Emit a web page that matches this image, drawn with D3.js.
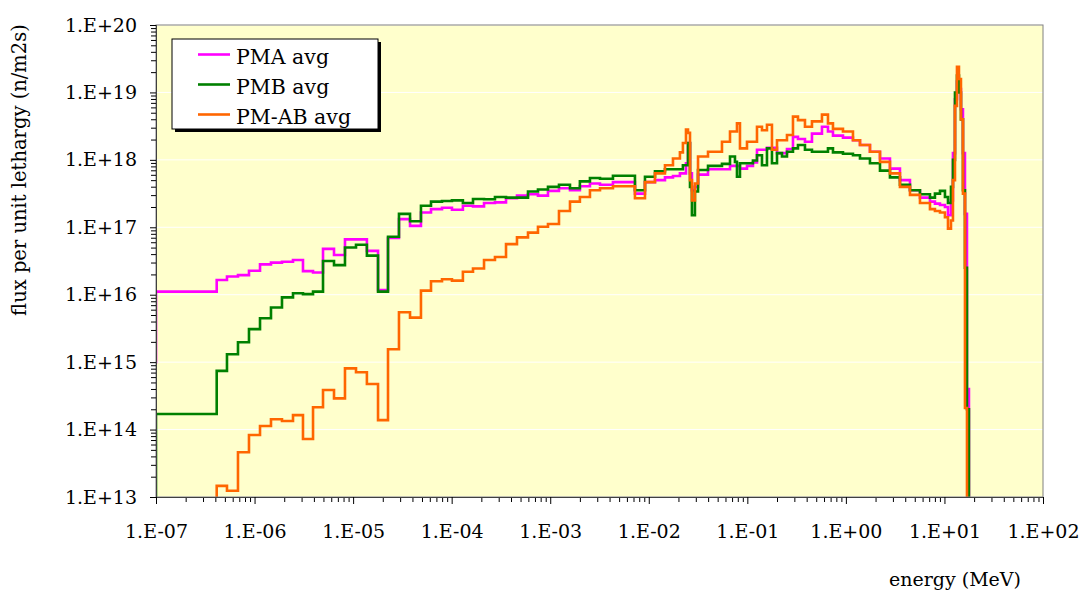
<!DOCTYPE html>
<html>
<head>
<meta charset="utf-8">
<script src="https://cdn.jsdelivr.net/npm/d3@7"></script>
<style>
  body { margin: 0; background: #fff; }
  text { font-family: 'DejaVu Serif', serif; fill: #000; }
</style>
</head>
<body>
<script>
// group edges (MeV), shared by the three series
const energy = [1.00e-7, 4.13e-7, 5.25e-7, 6.79e-7, 8.78e-7, 1.136e-6, 1.468e-6, 1.898e-6, 2.455e-6, 3.10e-6,
  3.92e-6, 4.95e-6, 6.40e-6, 8.27e-6, 1.07e-5, 1.38e-5, 1.79e-5, 2.26e-5, 2.92e-5, 3.78e-5,
  4.88e-5, 6.17e-5, 7.98e-5, 1.007e-4, 1.30e-4, 1.646e-4, 2.13e-4, 2.75e-4, 3.56e-4, 4.60e-4,
  5.95e-4, 7.51e-4, 9.49e-4, 1.227e-3, 1.587e-3, 2.00e-3, 2.53e-3, 3.20e-3, 4.33e-3, 7.24e-3,
  9.15e-3, 1.156e-2, 1.46e-2, 1.76e-2, 2.07e-2, 2.22e-2, 2.385e-2, 2.50e-2, 2.62e-2, 2.74e-2,
  2.94e-2, 3.16e-2, 3.99e-2, 4.70e-2, 5.53e-2, 6.67e-2, 7.49e-2, 7.85e-2, 8.42e-2, 9.92e-2,
  0.114, 0.1253, 0.1408, 0.1582, 0.1778, 0.200, 0.2247, 0.2525, 0.2905, 0.3265,
  0.3844, 0.4527, 0.5718, 0.658, 0.7395, 0.934, 1.18, 1.39, 1.755, 2.218,
  2.80, 3.537, 4.47, 5.645, 7.13, 8.01, 9.01, 10.12, 10.86, 11.65,
  12.2, 12.79, 13.4, 14.04, 14.71, 15.41, 16.15, 16.93, 17.73]

// flux per group (n/m2s per unit lethargy)
const pma = [1.11e16, 1.65e16, 1.86e16, 1.95e16, 2.27e16, 2.82e16, 2.99e16, 3.09e16, 3.27e16, 2.24e16,
  2.14e16, 4.79e16, 3.89e16, 6.61e16, 6.61e16, 4.47e16, 1.17e16, 6.92e16, 1.32e17, 1.05e17,
  1.66e17, 1.86e17, 1.95e17, 1.82e17, 2.09e17, 2.04e17, 2.29e17, 2.34e17, 2.69e17, 2.95e17,
  3.09e17, 2.95e17, 3.47e17, 3.80e17, 3.55e17, 4.07e17, 4.47e17, 4.27e17, 4.68e17, 3.16e17,
  4.68e17, 5.01e17, 5.50e17, 5.75e17, 6.31e17, 6.31e17, 8.91e17, 1.78e18, 6.31e17, 3.55e17,
  3.98e17, 6.03e17, 7.24e17, 7.24e17, 7.24e17, 8.13e17, 8.13e17, 8.13e17, 7.41e17, 8.13e17,
  9.12e17, 1.41e18, 1.41e18, 1.51e18, 1.51e18, 1.26e18, 1.26e18, 1.45e18, 2.19e18, 2.04e18,
  1.86e18, 2.45e18, 3.09e18, 2.63e18, 2.29e18, 2.14e18, 1.95e18, 1.66e18, 1.32e18, 1.05e18,
  7.41e17, 5.01e17, 3.55e17, 2.75e17, 2.40e17, 2.24e17, 2.14e17, 2.00e17, 1.51e17, 2.51e17,
  1.26e18, 7.94e18, 1.45e19, 1.12e19, 5.62e18, 1.26e18, 1.58e17, 3.98e14]

const pmb = [1.70e14, 7.41e14, 1.31e15, 1.97e15, 3.09e15, 4.47e15, 6.46e15, 9.12e15, 1.05e16, 1.02e16,
  1.11e16, 3.16e16, 2.75e16, 5.01e16, 5.50e16, 3.80e16, 1.11e16, 7.24e16, 1.58e17, 1.23e17,
  2.09e17, 2.40e17, 2.45e17, 2.51e17, 2.29e17, 2.63e17, 2.60e17, 2.82e17, 2.75e17, 2.75e17,
  3.39e17, 3.63e17, 3.98e17, 4.27e17, 3.80e17, 4.79e17, 5.37e17, 5.25e17, 5.82e17, 3.55e17,
  5.62e17, 6.76e17, 7.24e17, 7.24e17, 7.24e17, 8.32e17, 8.32e17, 1.78e18, 3.98e17, 1.51e17,
  3.39e17, 7.08e17, 8.13e17, 8.13e17, 8.71e17, 1.12e18, 9.33e17, 5.62e17, 8.91e17, 8.91e17,
  9.77e17, 1.17e18, 8.32e17, 1.48e18, 8.91e17, 1.26e18, 1.12e18, 1.32e18, 1.48e18, 1.66e18,
  1.41e18, 1.32e18, 1.32e18, 1.48e18, 1.29e18, 1.23e18, 1.17e18, 1.05e18, 8.91e17, 6.92e17,
  5.50e17, 4.27e17, 3.55e17, 3.09e17, 2.75e17, 3.16e17, 3.47e17, 2.82e17, 2.29e17, 3.98e17,
  1.00e18, 1.00e19, 1.78e19, 1.00e19, 3.98e18, 3.55e17, 2.51e16, 2.00e14]

const pmab = [3.16e12, 1.46e13, 1.24e13, 4.60e13, 8.32e13, 1.13e14, 1.42e14, 1.34e14, 1.64e14, 7.24e13,
  2.14e14, 3.86e14, 2.90e14, 8.09e14, 7.08e14, 4.74e14, 1.38e14, 1.55e15, 5.50e15, 4.57e15,
  1.15e16, 1.58e16, 1.70e16, 1.62e16, 2.19e16, 2.45e16, 3.27e16, 3.63e16, 5.62e16, 7.08e16,
  8.32e16, 1.02e17, 1.12e17, 1.74e17, 2.40e17, 2.82e17, 3.55e17, 3.80e17, 4.07e17, 2.69e17,
  4.68e17, 6.31e17, 8.32e17, 1.05e18, 1.29e18, 1.78e18, 2.82e18, 2.51e18, 5.01e17, 2.51e17,
  4.47e17, 1.12e18, 1.32e18, 1.32e18, 1.86e18, 2.63e18, 2.63e18, 3.47e18, 1.48e18, 1.86e18,
  1.86e18, 3.09e18, 2.75e18, 3.31e18, 1.41e18, 1.95e18, 1.95e18, 2.34e18, 4.37e18, 3.89e18,
  3.09e18, 3.72e18, 4.68e18, 3.47e18, 2.88e18, 2.63e18, 1.95e18, 1.66e18, 1.32e18, 9.33e17,
  6.31e17, 3.98e17, 3.02e17, 2.29e17, 1.86e17, 1.74e17, 1.66e17, 1.41e17, 9.55e16, 1.26e17,
  5.01e17, 6.31e18, 2.40e19, 1.58e19, 3.98e18, 3.16e17, 2.09e14, 3.16e12]

// value just below the first edge (sets the vertical rise at the left axis)
const before = [1e15, 1e12, 1e12]
const after = 1e12

const seriesNames = ['PMA avg', 'PMB avg', 'PM-AB avg']
const seriesColors = ['#ff00ff', '#008000', '#ff6600']
const seriesValues = [pma, pmb, pmab]

const margin = {top: 25, right: 43, bottom: 98, left: 156}
const W = 1086, H = 595
const width = W - margin.left - margin.right
const height = H - margin.top - margin.bottom

const svg = d3.select('body').append('svg')
  .attr('width', W)
  .attr('height', H)

const g = svg.append('g')
  .attr('transform', `translate(${margin.left},${margin.top})`)

const x = d3.scaleLog().domain([1e-7, 1e2]).range([0, width])
const y = d3.scaleLog().domain([1e13, 1e20]).range([height, 0])

// plot background
g.append('rect')
  .attr('width', width).attr('height', height)
  .attr('fill', '#ffffcc')

const decadesY = d3.range(13, 21).map(p => Math.pow(10, p))
const decadesX = d3.range(-7, 3).map(p => Math.pow(10, p))

// white gridlines
g.selectAll('.grid').data(decadesY).join('line')
  .attr('class', 'grid')
  .attr('x1', 0).attr('x2', width)
  .attr('y1', d => y(d)).attr('y2', d => y(d))
  .attr('stroke', '#ffffff').attr('stroke-width', 1)

function fmt(d) {
  const p = Math.round(Math.log10(d))
  return '1.E' + (p < 0 ? '-' : '+') + String(Math.abs(p)).padStart(2, '0')
}

function minors(lo, hi) {
  const out = []
  for (let p = lo; p < hi; p++) for (let k = 2; k <= 9; k++) out.push(k * Math.pow(10, p))
  return out
}

// clip for the data
svg.append('defs').append('clipPath').attr('id', 'clip')
  .append('rect').attr('width', width).attr('height', height)

const line = d3.line()
  .x(d => x(d[0]))
  .y(d => y(d[1]))
  .curve(d3.curveStepAfter)

const plot = g.append('g').attr('clip-path', 'url(#clip)')

seriesValues.forEach((vals, s) => {
  const pts = [[5e-8, before[s]]]
  vals.forEach((v, i) => pts.push([energy[i], v]))
  pts.push([energy[energy.length - 1], after])
  pts.push([1e3, after])
  plot.append('path')
    .datum(pts)
    .attr('fill', 'none')
    .attr('stroke', seriesColors[s])
    .attr('stroke-width', 2.6)
    .attr('d', line)
})

// plot border
g.append('rect')
  .attr('width', width).attr('height', height)
  .attr('fill', 'none').attr('stroke', '#808080').attr('stroke-width', 1)

// axes: minor ticks then major ticks with labels
g.append('g').attr('class', 'y-minor')
  .call(d3.axisLeft(y).tickValues(minors(13, 20)).tickSize(5).tickFormat(''))
g.append('g').attr('class', 'y-major')
  .call(d3.axisLeft(y).tickValues(decadesY).tickSize(6).tickPadding(13).tickFormat(fmt))

g.append('g').attr('class', 'x-minor')
  .attr('transform', `translate(0,${height})`)
  .call(d3.axisBottom(x).tickValues(minors(-7, 2)).tickSize(5).tickFormat(''))
g.append('g').attr('class', 'x-major')
  .attr('transform', `translate(0,${height})`)
  .call(d3.axisBottom(x).tickValues(decadesX).tickSize(7).tickPadding(21).tickFormat(fmt))

g.selectAll('.domain').attr('stroke', '#404040')
g.selectAll('.tick line').attr('stroke', '#000')
g.selectAll('.tick text').attr('font-size', 19).attr('font-family', 'DejaVu Serif')

// axis titles
svg.append('text')
  .attr('transform', 'translate(26,170) rotate(-90)')
  .attr('text-anchor', 'middle')
  .attr('font-size', 19.5)
  .text('flux per unit lethargy (n/m2s)')

svg.append('text')
  .attr('x', 1021).attr('y', 586)
  .attr('text-anchor', 'end')
  .attr('font-size', 19)
  .text('energy (MeV)')

// legend
const lg = svg.append('g').attr('transform', 'translate(172,39)')
lg.append('rect').attr('x', 3).attr('y', 3).attr('width', 206).attr('height', 90).attr('fill', '#000')
lg.append('rect').attr('width', 206).attr('height', 90)
  .attr('fill', '#fff').attr('stroke', '#000').attr('stroke-width', 1)
seriesNames.forEach((name, i) => {
  const yy = 15.5 + i * 30
  lg.append('line')
    .attr('x1', 26).attr('x2', 58).attr('y1', yy).attr('y2', yy)
    .attr('stroke', seriesColors[i]).attr('stroke-width', 2.6)
  lg.append('text')
    .attr('x', 64).attr('y', yy + 9)
    .attr('font-size', 20.5)
    .text(name)
})
</script>
</body>
</html>
